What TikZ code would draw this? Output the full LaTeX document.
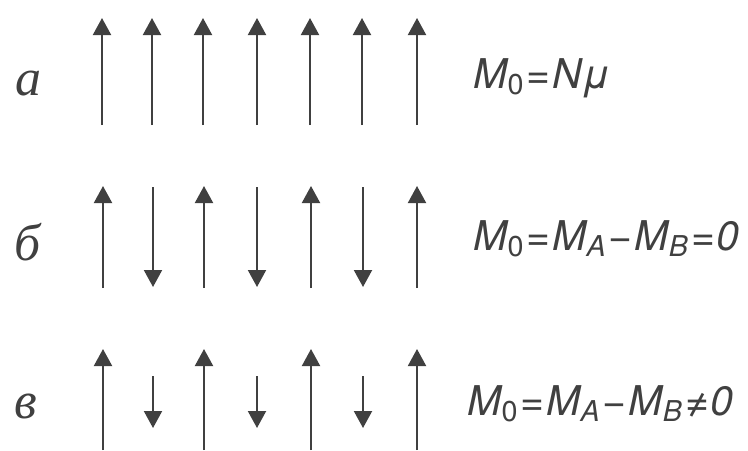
\documentclass[tikz,border=0pt]{standalone}
\usepackage{fontspec}
\setmainfont{TeX Gyre Heros}
\newfontfamily\cyrfont{Liberation Serif}
\usetikzlibrary{arrows.meta}
\newcommand\gp{\kern1pt}

\begin{document}
\begin{tikzpicture}[x=0.5pt,y=-0.5pt,
  spin/.style={draw=black!75,line width=1pt,-{Triangle[width=9pt,length=8.5pt]}},
  lbl/.style={anchor=base,inner sep=0pt,text=black!75,font=\cyrfont\itshape\fontsize{26}{28}\selectfont},
  eqn/.style={anchor=base west,inner sep=0pt,text=black!75,font=\itshape\fontsize{20.5}{24}\selectfont}]
  \useasboundingbox (0,0) rectangle (748,450);
  \node[lbl] (la) at (28,95) {а};
  \node[lbl] (lb) at (28,260) {б};
  \node[lbl] (lc) at (26,418) {в};
  \node[eqn] (ea) at (473,88) {M\textsubscript{\upshape 0}\gp=\gp Nμ};
  \node[eqn] (eb) at (473,250) {M\textsubscript{\upshape 0}\gp=\gp M\textsubscript{A}\gp−\gp M\textsubscript{B}\gp=\gp 0};
  \node[eqn] (ec) at (467,415) {M\textsubscript{\upshape 0}\gp=\gp M\textsubscript{A}\gp−\gp M\textsubscript{B}\gp≠\gp 0};
  % row а
  \foreach \i/\x in {1/102,2/152,3/203,4/257,5/310,6/362,7/417}{
    \coordinate (a\i s) at (\x,125);
    \coordinate (a\i e) at (\x,18);
    \draw[spin] (a\i s) -- (a\i e);
  }
  % row б
  \foreach \i/\x/\ys/\ye in {1/103/288/186,2/153/187/287,3/204/288/186,4/257/187/287,
                             5/311/288/186,6/363/187/287,7/417/288/186}{
    \coordinate (b\i s) at (\x,\ys);
    \coordinate (b\i e) at (\x,\ye);
    \draw[spin] (b\i s) -- (b\i e);
  }
  % row в
  \foreach \i/\x/\ys/\ye in {1/103/450/349,2/153/376/428,3/204/450/349,4/257/376/428,
                             5/311/450/349,6/363/376/428,7/417/450/349}{
    \coordinate (c\i s) at (\x,\ys);
    \coordinate (c\i e) at (\x,\ye);
    \draw[spin] (c\i s) -- (c\i e);
  }
\end{tikzpicture}
\end{document}
